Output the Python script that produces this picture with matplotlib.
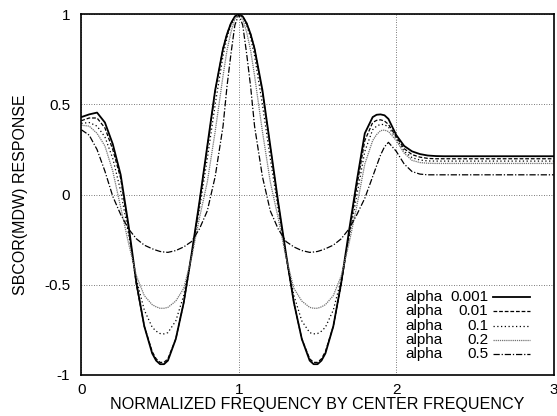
import matplotlib
matplotlib.use("Agg")
import matplotlib.pyplot as plt

plt.rcParams['font.family'] = ['Liberation Sans', 'DejaVu Sans']

# normalized frequency samples
freq = [0, 0.05, 0.1, 0.15, 0.2, 0.25, 0.3, 0.35, 0.4, 0.45, 0.475, 0.5, 0.525, 0.55, 0.6,
        0.65, 0.7, 0.75, 0.8, 0.85, 0.9, 0.925, 0.95, 0.975, 1.0, 1.025, 1.05, 1.075, 1.1,
        1.15, 1.2, 1.25, 1.3, 1.35, 1.4, 1.45, 1.475, 1.5, 1.525, 1.55, 1.6, 1.65, 1.7, 1.75,
        1.8, 1.85, 1.875, 1.9, 1.925, 1.95, 2.0, 2.05, 2.1, 2.15, 2.2, 2.25, 2.3, 3.0]

resp_0001 = [0.43, 0.445, 0.455, 0.40, 0.28, 0.11, -0.17, -0.49, -0.73, -0.88,
             -0.92, -0.94, -0.94,
             -0.92, -0.80, -0.60, -0.33, -0.04, 0.27, 0.58, 0.81,
             0.89, 0.95, 0.988, 1.0, 0.988, 0.95, 0.89,
             0.81, 0.58, 0.27, -0.04, -0.33, -0.60, -0.80, -0.92,
             -0.94, -0.94, -0.92,
             -0.88, -0.73, -0.49, -0.20, 0.08, 0.34, 0.43,
             0.443, 0.445, 0.44,
             0.42, 0.33, 0.27, 0.24, 0.225, 0.217, 0.214, 0.213,
             0.213]

resp_001 = [0.41, 0.425, 0.425, 0.37, 0.25, 0.09, -0.19, -0.50, -0.73, -0.87,
            -0.91, -0.93, -0.93,
            -0.91, -0.80, -0.60, -0.34, -0.05, 0.26, 0.57, 0.81,
            0.89, 0.95, 0.988, 1.0, 0.988, 0.95, 0.89,
            0.81, 0.57, 0.26, -0.05, -0.34, -0.60, -0.80, -0.91,
            -0.93, -0.93, -0.91,
            -0.87, -0.73, -0.50, -0.22, 0.05, 0.30, 0.40,
            0.412, 0.415, 0.408,
            0.39, 0.32, 0.255, 0.222, 0.208, 0.201, 0.199, 0.199,
            0.199]

resp_01 = [0.395, 0.40, 0.38, 0.32, 0.20, 0.02, -0.22, -0.47, -0.64, -0.735,
           -0.757, -0.77, -0.772,
           -0.765, -0.70, -0.56, -0.34, -0.08, 0.20, 0.50, 0.77,
           0.87, 0.94, 0.985, 1.0, 0.985, 0.94, 0.87,
           0.77, 0.50, 0.20, -0.08, -0.34, -0.56, -0.70, -0.765,
           -0.772, -0.77, -0.757,
           -0.735, -0.64, -0.47, -0.24, 0.0, 0.24, 0.36,
           0.38, 0.39, 0.388,
           0.375, 0.31, 0.24, 0.205, 0.192, 0.187, 0.186, 0.186,
           0.186]

resp_02 = [0.385, 0.38, 0.34, 0.27, 0.13, -0.07, -0.27, -0.45, -0.56, -0.61,
           -0.622, -0.63, -0.63,
           -0.625, -0.59, -0.52, -0.35, -0.13, 0.07, 0.35, 0.66,
           0.80, 0.90, 0.975, 1.0, 0.975, 0.90, 0.80,
           0.66, 0.35, 0.07, -0.13, -0.35, -0.52, -0.59, -0.625,
           -0.63, -0.63, -0.622,
           -0.61, -0.56, -0.45, -0.27, -0.06, 0.17, 0.30,
           0.333, 0.355, 0.358,
           0.35, 0.30, 0.23, 0.19, 0.178, 0.174, 0.173, 0.173,
           0.173]

resp_05 = [0.36, 0.33, 0.25, 0.13, -0.01, -0.11, -0.19, -0.245, -0.28, -0.30,
           -0.308, -0.315, -0.318,
           -0.32, -0.31, -0.29, -0.26, -0.19, -0.09, 0.10, 0.38,
           0.60, 0.78, 0.94, 1.0, 0.94, 0.78, 0.60,
           0.38, 0.10, -0.09, -0.19, -0.26, -0.29, -0.31, -0.32,
           -0.318, -0.315, -0.308,
           -0.30, -0.28, -0.245, -0.19, -0.11, -0.02, 0.10,
           0.16, 0.22, 0.265,
           0.29, 0.24, 0.17, 0.128, 0.114, 0.11, 0.11, 0.11,
           0.11]

alphas = ["0.001", "0.01", "0.1", "0.2", "0.5"]
series = [resp_0001, resp_001, resp_01, resp_02, resp_05]
styles = [
    {"color": "black", "lw": 1.3, "ls": "-"},
    {"color": "black", "lw": 0.9, "ls": (0, (3, 1.5))},
    {"color": "black", "lw": 0.9, "ls": (0, (1, 2))},
    {"color": "0.45", "lw": 0.9, "ls": (0, (1, 0.7))},
    {"color": "black", "lw": 0.9, "ls": (0, (5, 1.5, 1, 1.5))},
]

fig = plt.figure(figsize=(5.57, 4.16), dpi=100)
ax = fig.add_axes([81.3 / 557, 1 - 375 / 416, 472.5 / 557, 360.7 / 416])

for vals, st in zip(series, styles):
    assert len(vals) == len(freq)
    ax.plot(freq, vals, color=st["color"], lw=st["lw"], ls=st["ls"])

ax.set_xlim(0, 3)
ax.set_ylim(-1, 1)
ax.set_xticks([0, 1, 2, 3])
ax.set_xticklabels(["0", "1", "2", "3"])
ax.set_yticks([-1, -0.5, 0, 0.5, 1])
ax.set_yticklabels(["-1", "-0.5", "0", "0.5", "1"])
ax.tick_params(length=0, labelsize=11, pad=5.5)
ax.tick_params(axis='y', pad=8)
ax.grid(True, color="0.3", lw=0.6, ls=(0, (1, 2)))
for sp in ax.spines.values():
    sp.set_linewidth(1.2)

ax.set_xlabel("NORMALIZED FREQUENCY BY CENTER FREQUENCY", fontsize=11.6, labelpad=0)
ax.set_ylabel("SBCOR(MDW) RESPONSE", fontsize=11.5)
ax.yaxis.set_label_coords(-0.113, 0.5)

# gnuplot style key in the lower right corner
row_y = [0.217, 0.177, 0.137, 0.097, 0.057]
for a, st, yy in zip(alphas, styles, row_y):
    ax.text(0.685, yy, "alpha", transform=ax.transAxes, fontsize=11, va="center", ha="left")
    ax.text(0.861, yy, a, transform=ax.transAxes, fontsize=11, va="center", ha="right")
    ax.plot([0.872, 0.95], [yy, yy], transform=ax.transAxes, color=st["color"],
            lw=st["lw"], ls=st["ls"])

fig.savefig("out.png", dpi=100)
